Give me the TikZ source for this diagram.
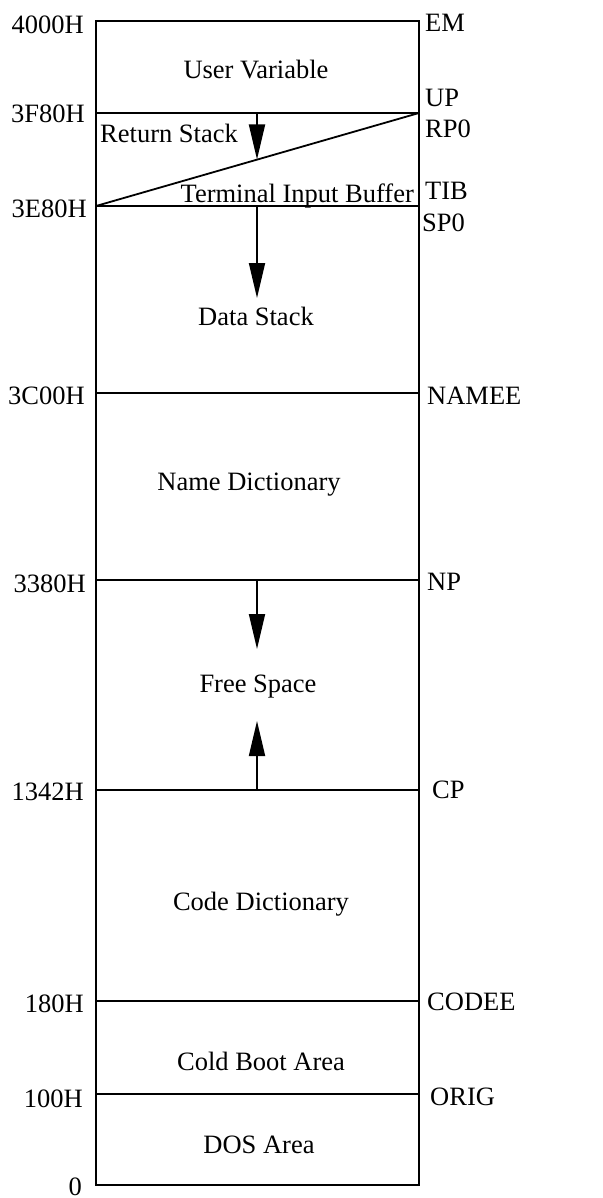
\documentclass[tikz,border=0pt]{standalone}
\usepackage{fontspec}
\setmainfont{Liberation Serif}
\usetikzlibrary{arrows.meta}
\tikzset{
  x=1pt,y=-1pt,
  lbl/.style={inner sep=0pt,font=\fontsize{26.5}{30}\selectfont},
  leftlbl/.style={lbl,anchor=base east},
  rightlbl/.style={lbl,anchor=base west},
  region/.style={lbl,anchor=base},
  wall/.style={line width=1.8pt},
  growarrow/.style={line width=1.8pt,-{Triangle[length=35pt,width=16pt]}}
}
\begin{document}
\begin{tikzpicture}
\useasboundingbox (0,0) rectangle (602,1198);
% boundary coordinates
\foreach \n/\y in {em/21,up/113,tib/206,namee/393,np/580,cp/790,codee/1001,orig/1094,zero/1185}{
  \coordinate (\n L) at (96,\y);
  \coordinate (\n R) at (419,\y);
}
% outer box
\draw[wall] (emL) -- (emR) -- (zeroR) -- (zeroL) -- cycle;
% separators
\foreach \n in {up,tib,namee,np,cp,codee,orig}{
  \draw[wall] (\n L) -- (\n R);
}
% diagonal between return stack and TIB
\draw[wall] (tibL) -- (upR);
% growth arrows
\coordinate (rsS) at (257,113);
\coordinate (rsE) at (257,159.5);
\coordinate (dsS) at (257,206);
\coordinate (dsE) at (257,298);
\coordinate (npS) at (257,580);
\coordinate (npE) at (257,649);
\coordinate (cpS) at (257,790);
\coordinate (cpE) at (257,721);
\draw[growarrow] (rsS) -- (rsE);
\draw[growarrow] (dsS) -- (dsE);
\draw[growarrow] (npS) -- (npE);
\draw[growarrow] (cpS) -- (cpE);
% region texts
\node[region] (uv) at (256,79) {User Variable};
\node[lbl,anchor=base west] (rs) at (100,143) {Return Stack};
\node[lbl,anchor=base east] (tb) at (414,203) {Terminal Input Buffer};
\node[region] (ds) at (256,325) {Data Stack};
\node[region] (nd) at (249,490) {Name Dictionary};
\node[region] (fs) at (258,692) {Free Space};
\node[region] (cd) at (261,910) {Code Dictionary};
\node[region] (cb) at (261,1070) {Cold Boot Area};
\node[region] (dos) at (259,1153) {DOS Area};
% left addresses
\node[leftlbl] (a4000) at (84,34) {4000H};
\node[leftlbl] (a3F80) at (85,123) {3F80H};
\node[leftlbl] (a3E80) at (87,218) {3E80H};
\node[leftlbl] (a3C00) at (85,404) {3C00H};
\node[leftlbl] (a3380) at (86,592) {3380H};
\node[leftlbl] (a1342) at (84,800) {1342H};
\node[leftlbl] (a180) at (84,1012) {180H};
\node[leftlbl] (a100) at (83,1107) {100H};
\node[leftlbl] (a0) at (82,1195) {0};
% right pointers
\node[rightlbl] (pEM) at (425,32) {EM};
\node[rightlbl] (pUP) at (425,107) {UP};
\node[rightlbl] (pRP) at (425,138) {RP0};
\node[rightlbl] (pTIB) at (425,200) {TIB};
\node[rightlbl] (pSP) at (422,232) {SP0};
\node[rightlbl] (pNAMEE) at (427,404) {NAMEE};
\node[rightlbl] (pNP) at (427,590) {NP};
\node[rightlbl] (pCP) at (432,798) {CP};
\node[rightlbl] (pCODEE) at (427,1010) {CODEE};
\node[rightlbl] (pORIG) at (430,1105) {ORIG};
\end{tikzpicture}
\end{document}
